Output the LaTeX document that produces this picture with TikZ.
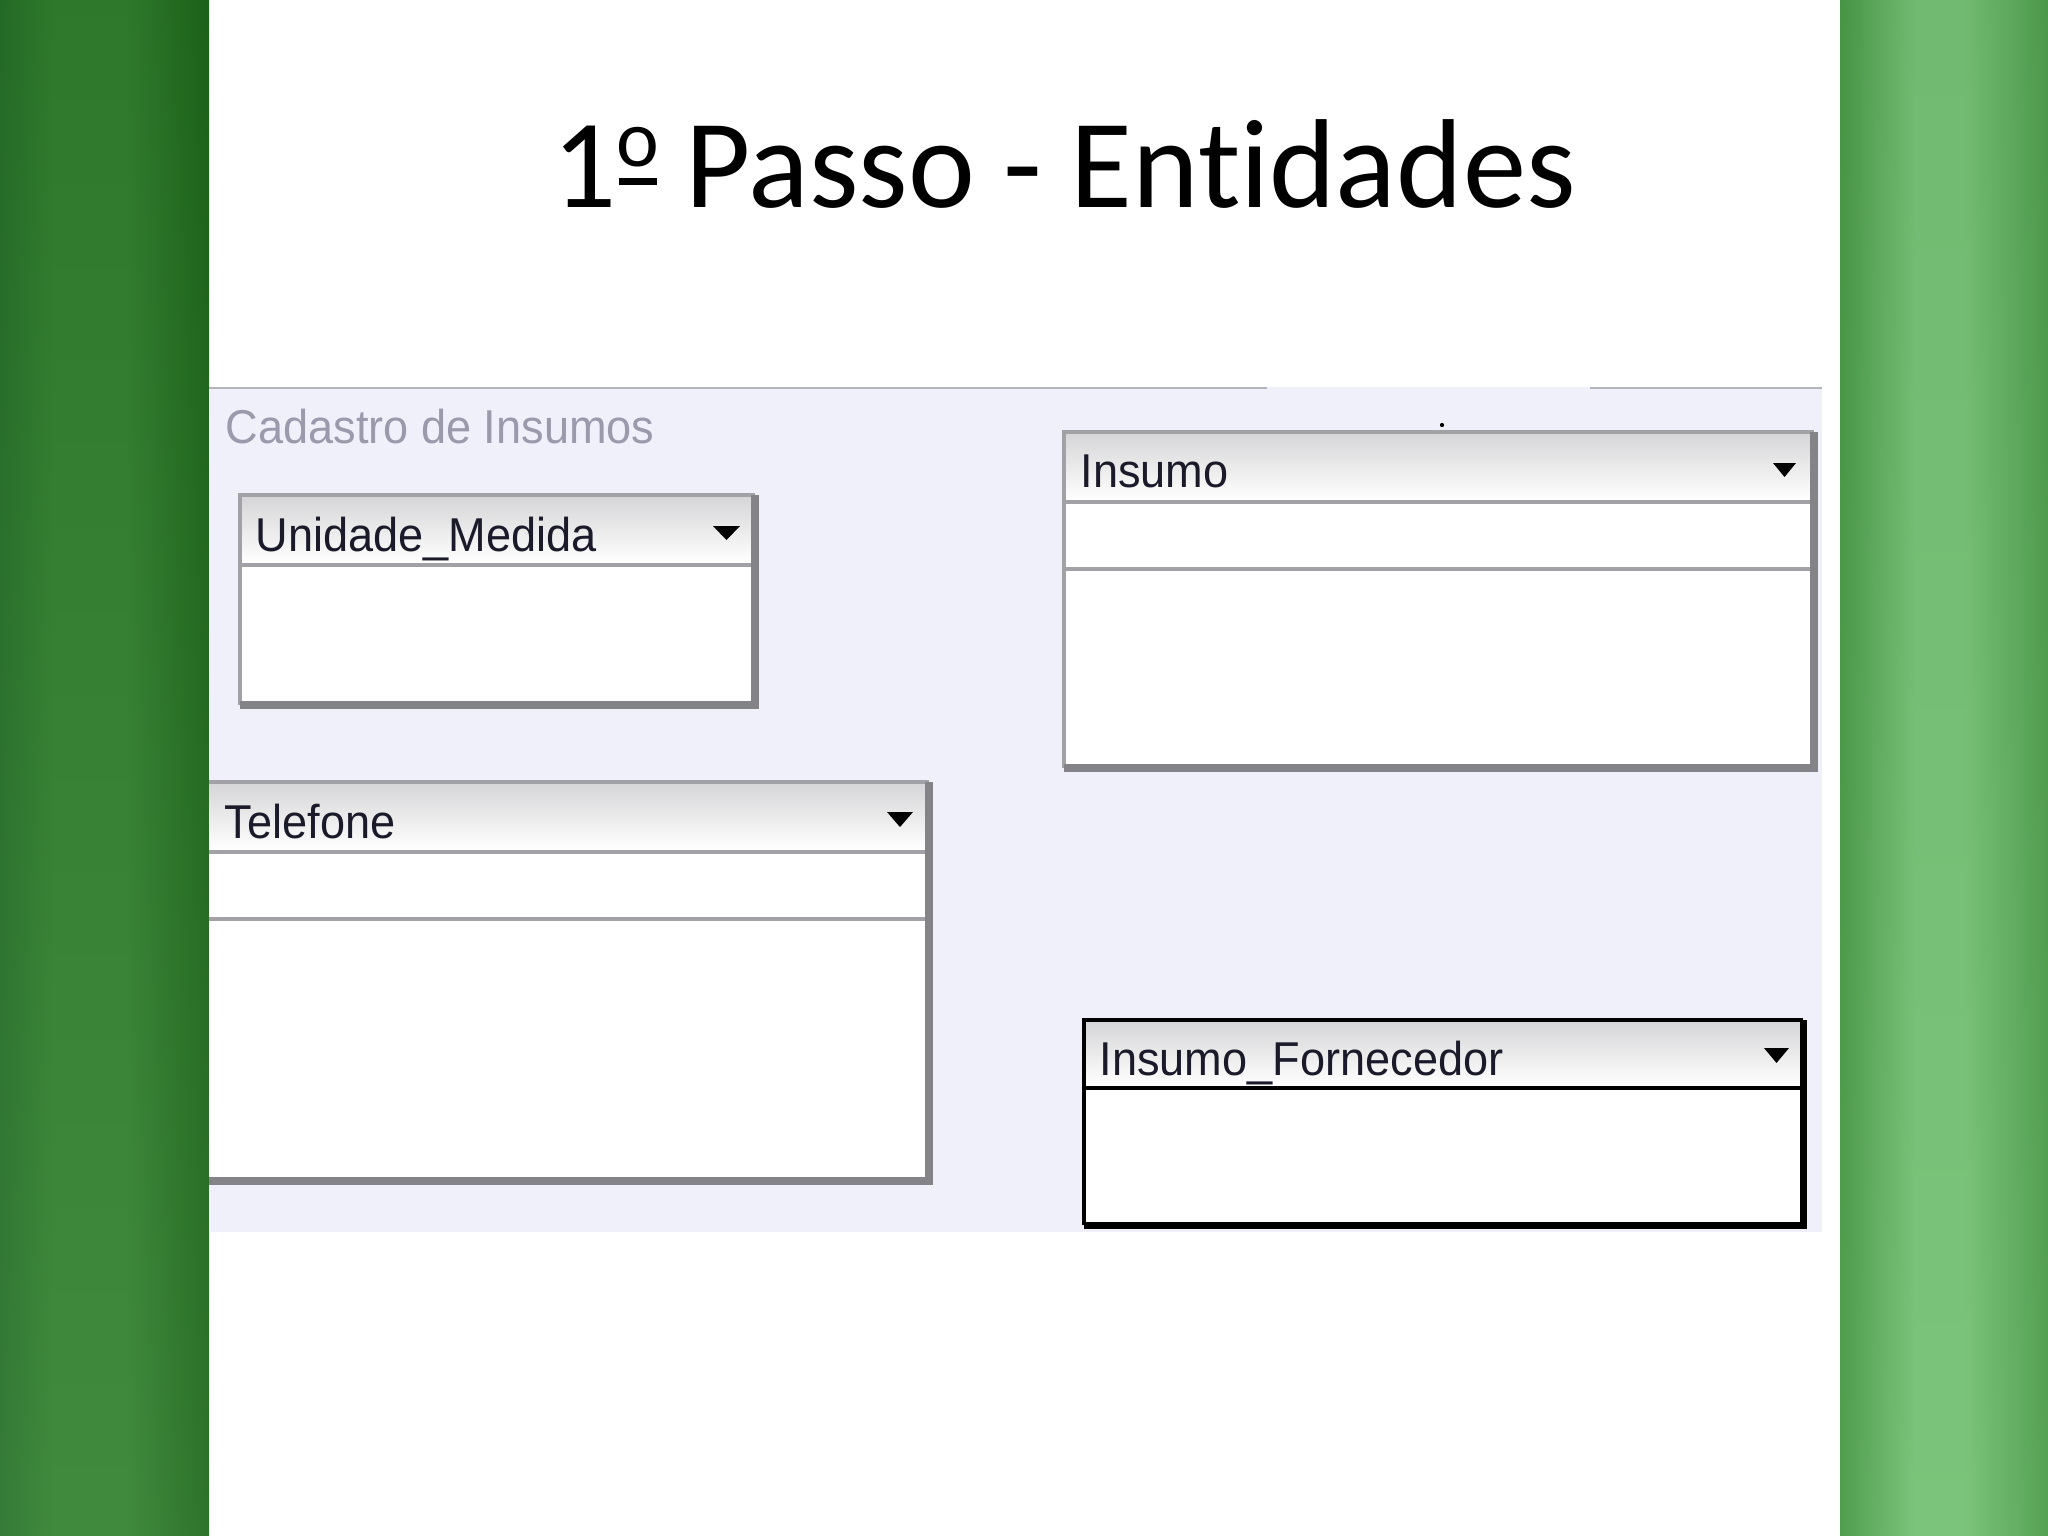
\documentclass[tikz,border=0pt]{standalone}
\usepackage{fontspec}
\setmainfont{Carlito}[Ligatures=NoCommon]
\newfontfamily\winfont[FakeStretch=0.95]{Liberation Sans}

\definecolor{bandL1}{HTML}{27722A}
\definecolor{bandL2}{HTML}{32822F}
\definecolor{bandL3}{HTML}{1F691B}
\definecolor{bandR1}{HTML}{4A9A48}
\definecolor{bandR2}{HTML}{76C276}
\definecolor{bandR3}{HTML}{4F9E4D}
\definecolor{panelfill}{HTML}{F0F0FB}
\definecolor{paneledge}{HTML}{B4B4BC}
\definecolor{framegray}{HTML}{A2A2A6}
\definecolor{frameshade}{HTML}{848488}
\definecolor{hdrgray}{HTML}{D6D6D8}
\definecolor{captext}{HTML}{9A9AAC}
\definecolor{enttext}{HTML}{1A1A2A}

\pgfdeclarehorizontalshading{leftbandshd}{100bp}{color(0bp)=(bandL1); color(25bp)=(bandL1);
  color(38bp)=(bandL2); color(55bp)=(bandL2); color(75bp)=(bandL3); color(100bp)=(bandL3)}
\pgfdeclarehorizontalshading{rightbandshd}{100bp}{color(0bp)=(bandR1); color(25bp)=(bandR1);
  color(43bp)=(bandR2); color(55bp)=(bandR2); color(75bp)=(bandR3); color(100bp)=(bandR3)}

% underlined ordinal o as in the title
\newcommand{\ordo}{\makebox[11.6pt][l]{\rlap{\hspace{0.8pt}\rule[6.3pt]{10.6pt}{1.9pt}}\raisebox{11.4pt}{\fontsize{23}{23}\selectfont o}}}

\tikzset{
  entname/.style={anchor=base west, inner sep=0pt, text=enttext,
    font=\winfont\fontsize{13.5}{15}\selectfont},
  frame/.style={draw=framegray, line width=1.1pt},
  frameshd/.style={draw=frameshade, line width=2.2pt},
  sepline/.style={draw=framegray, line width=0.9pt},
  hdrshade/.style={top color=hdrgray, bottom color=white},
  ddarrow/.style={fill=black}
}

\begin{document}
\begin{tikzpicture}[x=0.01cm,y=-0.01cm]
\useasboundingbox (0,0) rectangle (2048,1536);
\fill[white] (0,0) rectangle (2048,1536);

% green side bands
\shade[shading=leftbandshd] (0,0) rectangle (209,1536);
\shade[top color=black, bottom color=white, fill opacity=0.07] (0,0) rectangle (209,1536);
\shade[shading=rightbandshd] (1840,0) rectangle (2048,1536);
\shade[top color=black, bottom color=white, fill opacity=0.04] (1840,0) rectangle (2048,1536);

% title
\node[anchor=base, inner sep=0pt, font=\fontsize{36}{40}\selectfont] (title) at (1064,207) {1\ordo{} Passo - Entidades};

% panel
\fill[panelfill] (209,387) rectangle (1822,1232);
\draw[paneledge, line width=0.6pt] (209,388) -- (1267,388);
\draw[paneledge, line width=0.6pt] (1590,388) -- (1822,388);
\node[anchor=base west, inner sep=0pt, text=captext, font=\winfont\fontsize{13.5}{15}\selectfont] (cadastro) at (225,443) {Cadastro de Insumos};
\fill[black] (1442,425) circle (0.6pt);

% Unidade_Medida
\fill[white] (240,495) rectangle (755,705);
\shade[hdrshade] (242,497) rectangle (753,563);
\draw[frame] (240,705) -- (240,495) -- (755,495);
\draw[sepline] (240,565) -- (755,565);
\draw[frameshd] (755,495) -- (755,705) -- (240,705);
\node[entname] (unidade) at (255,551) {Unidade\_Medida};
\fill[ddarrow] (713,526) -- (740,526) -- (726.5,540) -- cycle;

% Insumo
\fill[white] (1064,432) rectangle (1814,768);
\shade[hdrshade] (1066,434) rectangle (1812,500);
\draw[frame] (1064,768) -- (1064,432) -- (1814,432);
\draw[sepline] (1064,502) -- (1814,502);
\draw[sepline] (1064,569) -- (1814,569);
\draw[frameshd] (1814,432) -- (1814,768) -- (1064,768);
\node[entname] (insumo) at (1080,487) {Insumo};
\fill[ddarrow] (1773,463) -- (1796,463) -- (1784.5,477) -- cycle;

% Telefone
\fill[white] (209,782) rectangle (929,1181);
\shade[hdrshade] (209,784) rectangle (927,850);
\draw[frame] (209,782) -- (929,782);
\draw[sepline] (209,852) -- (929,852);
\draw[sepline] (209,919) -- (929,919);
\draw[frameshd] (929,782) -- (929,1181) -- (209,1181);
\node[entname] (telefone) at (224,838) {Telefone};
\fill[ddarrow] (887,812) -- (913,812) -- (900,827) -- cycle;

% Insumo_Fornecedor
\fill[white] (1084,1020) rectangle (1803,1225);
\shade[hdrshade] (1086,1022) rectangle (1801,1086);
\draw[black, line width=1.2pt] (1084,1225) -- (1084,1020) -- (1803,1020);
\draw[black, line width=1pt] (1084,1088) -- (1803,1088);
\draw[black, line width=2pt] (1803,1020) -- (1803,1225) -- (1084,1225);
\node[entname] (insfornec) at (1099,1075) {Insumo\_Fornecedor};
\fill[ddarrow] (1764,1048) -- (1789,1048) -- (1776.5,1063) -- cycle;
\end{tikzpicture}
\end{document}
